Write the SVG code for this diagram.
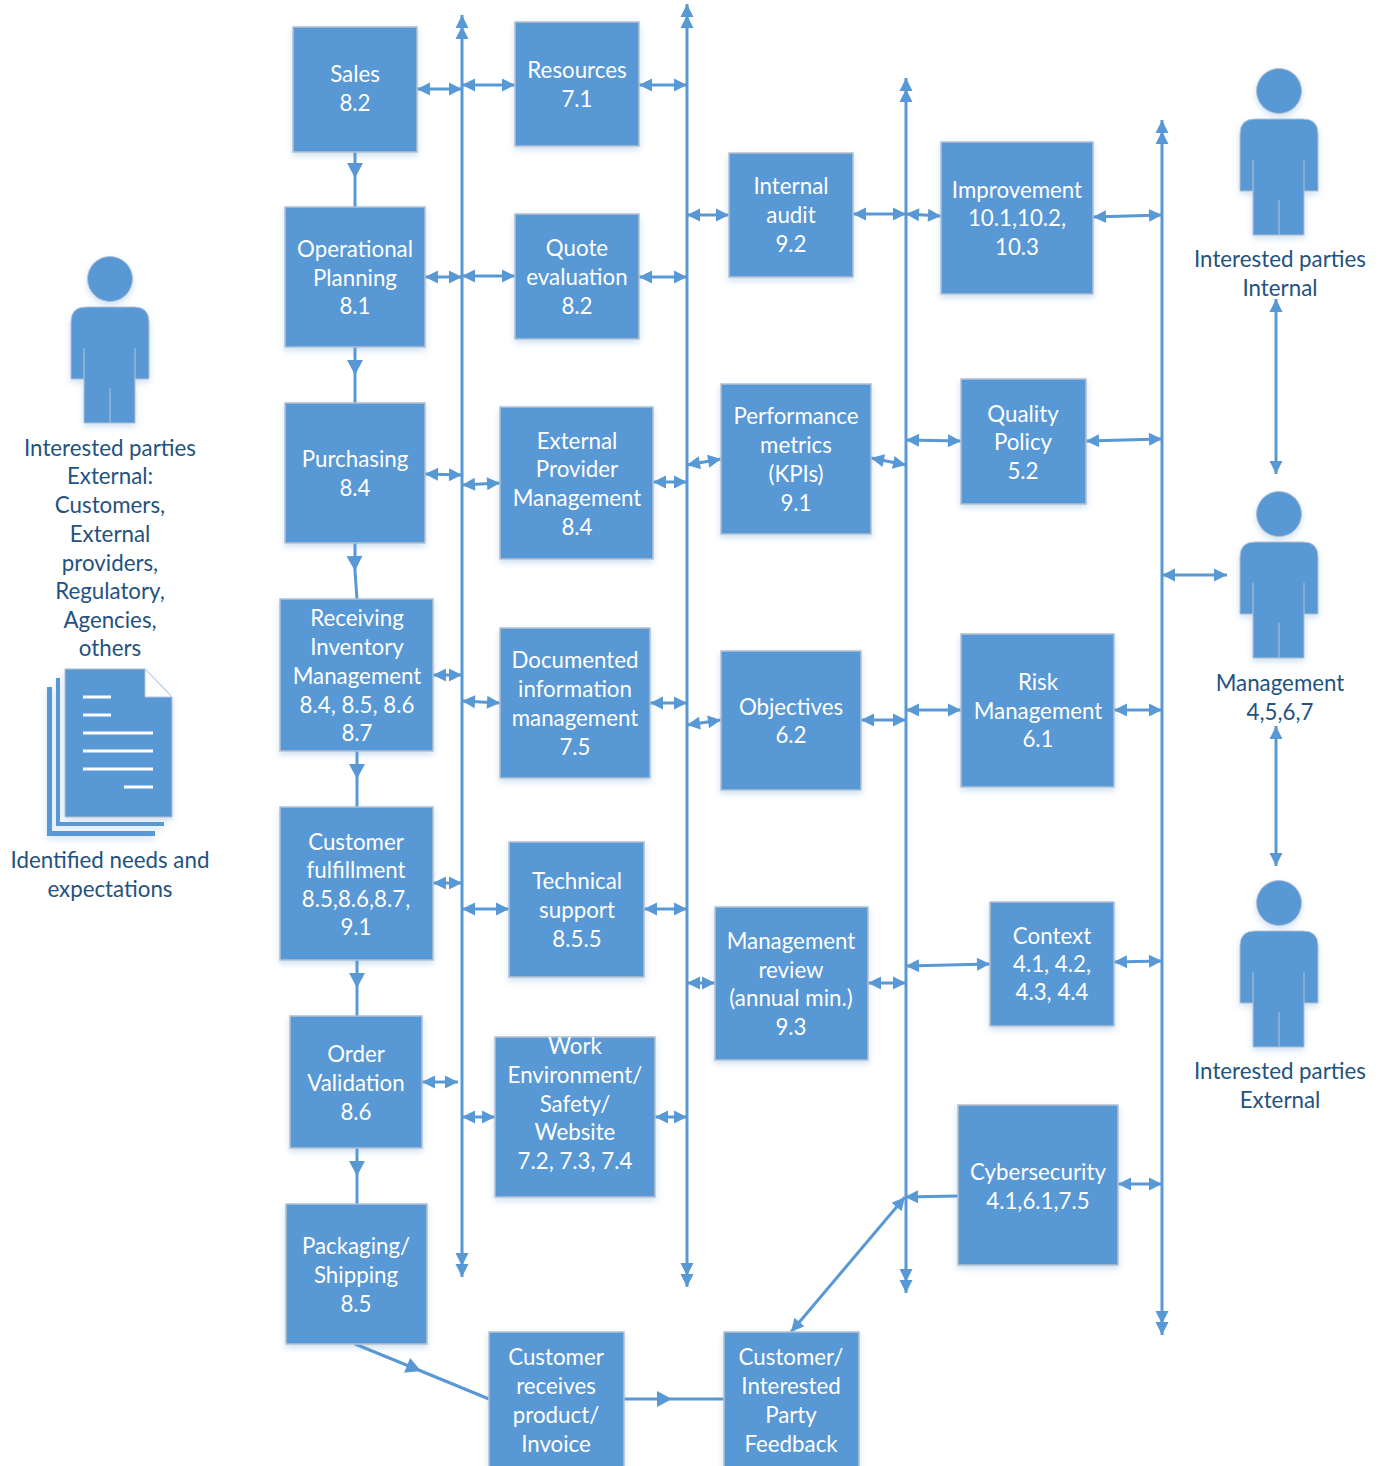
<svg xmlns="http://www.w3.org/2000/svg" width="1384" height="1466" viewBox="0 0 1384 1466">
<style>
text{font-family:"Lato","Liberation Sans",sans-serif;font-size:22.300px;text-anchor:middle;transform:translateY(1px)}
.n rect,.b{fill:#5898d5;stroke:#b4c0cf;stroke-width:1.5;filter:url(#s)}
.n text{fill:#fff}
.l{fill:#24527e}
.p{fill:#5898d5;stroke:#b4c0cf;stroke-width:1;filter:url(#s)}
.d{fill:none;stroke:#b4c5d8;stroke-width:1}
.w{fill:none;stroke:#fff;stroke-width:3}
#c line,#c polyline{fill:none;stroke:#5898d5;stroke-width:3}
.a2{marker-start:url(#a);marker-end:url(#a)}
.v{marker-start:url(#aa);marker-end:url(#aa)}
.m{marker-mid:url(#b)}
.e{marker-end:url(#a)}
</style>
<defs>
<filter id="s" x="-10%" y="-10%" width="120%" height="125%"><feDropShadow dx="0" dy="3" stdDeviation="3" flood-color="#5b9bd5" flood-opacity=".3"/></filter>
<marker id="a" markerUnits="userSpaceOnUse" markerWidth="16" markerHeight="16" viewBox="0 0 16 16" refX="15" refY="8" orient="auto-start-reverse"><path d="M15 8L2 1.500V14.500Z" fill="#5898d5"/></marker>
<marker id="b" markerUnits="userSpaceOnUse" markerWidth="18" markerHeight="18" viewBox="0 0 18 18" refX="17" refY="9" orient="auto"><path d="M17 9L2 1V17Z" fill="#5898d5"/></marker>
<marker id="aa" markerUnits="userSpaceOnUse" markerWidth="28" markerHeight="16" viewBox="0 0 28 16" refX="27" refY="8" orient="auto-start-reverse"><path d="M27 8L14 1.500V14.500ZM16 8L3 1.500V14.500Z" fill="#5898d5"/></marker>
<g id="person"><circle cx="110" cy="279" r="22.500" class="p"/><path class="p" d="M71 379V322Q71 307 86 307H134Q149 307 149 322V379H135V423H84V379Z"/><path class="d" d="M84 348V379M135 348V379M110 388V423"/></g>
</defs>
<g id="c">
<polyline class="m" points="355,152 355,178 355,207"/>
<polyline class="m" points="355,347 355,375 355,403"/>
<polyline class="m" points="355,543 355,571 357,599"/>
<polyline class="m" points="357,751 357,779 357,807"/>
<polyline class="m" points="357,960 357,988 357,1016"/>
<polyline class="m" points="357,1148 357,1176 357,1204"/>
<polyline class="m" points="355,1344 421,1371 489,1399"/>
<polyline class="m" points="624,1399 672,1399 724,1399"/>
<line class="v" x1="462" y1="15" x2="462" y2="1277"/>
<line class="v" x1="687" y1="4" x2="687" y2="1287"/>
<line class="v" x1="906" y1="78" x2="906" y2="1293"/>
<line class="v" x1="1162" y1="120" x2="1162" y2="1335"/>
<line class="a2" x1="417" y1="89" x2="462" y2="89"/>
<line class="a2" x1="462" y1="85" x2="515" y2="85"/>
<line class="a2" x1="639" y1="85" x2="687" y2="85"/>
<line class="a2" x1="425" y1="277" x2="462" y2="277"/>
<line class="a2" x1="462" y1="276" x2="515" y2="276"/>
<line class="a2" x1="639" y1="277" x2="687" y2="277"/>
<line class="a2" x1="425" y1="474" x2="462" y2="475"/>
<line class="a2" x1="462" y1="485" x2="500" y2="483"/>
<line class="a2" x1="653" y1="482" x2="687" y2="482"/>
<line class="a2" x1="433" y1="675" x2="462" y2="675"/>
<line class="a2" x1="462" y1="701" x2="500" y2="703"/>
<line class="a2" x1="650" y1="703" x2="687" y2="703"/>
<line class="a2" x1="433" y1="883" x2="462" y2="883"/>
<line class="a2" x1="462" y1="909" x2="509" y2="909"/>
<line class="a2" x1="644" y1="909" x2="687" y2="909"/>
<line class="a2" x1="422" y1="1082" x2="458" y2="1082"/>
<line class="a2" x1="462" y1="1117" x2="495" y2="1117"/>
<line class="a2" x1="655" y1="1117" x2="687" y2="1117"/>
<line class="a2" x1="687" y1="215" x2="729" y2="215"/>
<line class="a2" x1="853" y1="214" x2="906" y2="214"/>
<line class="a2" x1="906" y1="214" x2="941" y2="216"/>
<line class="a2" x1="1093" y1="217" x2="1162" y2="215"/>
<line class="a2" x1="687" y1="465" x2="721" y2="459"/>
<line class="a2" x1="871" y1="458" x2="906" y2="465"/>
<line class="a2" x1="906" y1="440" x2="961" y2="441"/>
<line class="a2" x1="1086" y1="441" x2="1162" y2="439"/>
<line class="a2" x1="687" y1="725" x2="721" y2="720"/>
<line class="a2" x1="861" y1="720" x2="906" y2="720"/>
<line class="a2" x1="906" y1="710" x2="961" y2="710"/>
<line class="a2" x1="1114" y1="710" x2="1162" y2="710"/>
<line class="a2" x1="687" y1="983" x2="715" y2="983"/>
<line class="a2" x1="868" y1="983" x2="906" y2="983"/>
<line class="a2" x1="906" y1="966" x2="990" y2="964"/>
<line class="a2" x1="1114" y1="962" x2="1162" y2="961"/>
<line class="a2" x1="1118" y1="1184" x2="1162" y2="1184"/>
<line class="e" x1="958" y1="1196" x2="905" y2="1197"/>
<line class="a2" x1="905" y1="1197" x2="791" y2="1332"/>
<line class="a2" x1="1162" y1="575" x2="1227" y2="575"/>
<line class="a2" x1="1276" y1="299" x2="1276" y2="474"/>
<line class="a2" x1="1276" y1="726" x2="1276" y2="866"/>
</g>
<g id="sales" class="n"><rect x="293" y="27" width="124" height="125"/><text><tspan x="355" y="81">Sales</tspan><tspan x="355" y="110">8.2</tspan></text></g>
<g id="op-planning" class="n"><rect x="285" y="207" width="140" height="140"/><text><tspan x="355" y="256">Operational</tspan><tspan x="355" y="285">Planning</tspan><tspan x="355" y="313">8.1</tspan></text></g>
<g id="purchasing" class="n"><rect x="285" y="403" width="140" height="140"/><text><tspan x="355" y="466">Purchasing</tspan><tspan x="355" y="495">8.4</tspan></text></g>
<g id="receiving" class="n"><rect x="280" y="599" width="153" height="152"/><text><tspan x="357" y="625">Receiving</tspan><tspan x="357" y="654">Inventory</tspan><tspan x="357" y="683">Management</tspan><tspan x="357" y="712">8.4, 8.5, 8.6</tspan><tspan x="357" y="740">8.7</tspan></text></g>
<g id="fulfillment" class="n"><rect x="280" y="807" width="153" height="153"/><text><tspan x="356" y="849">Customer</tspan><tspan x="356" y="877">fulfillment</tspan><tspan x="356" y="906">8.5,8.6,8.7,</tspan><tspan x="356" y="934">9.1</tspan></text></g>
<g id="order-validation" class="n"><rect x="290" y="1016" width="132" height="132"/><text><tspan x="356" y="1061">Order</tspan><tspan x="356" y="1090">Validation</tspan><tspan x="356" y="1119">8.6</tspan></text></g>
<g id="packaging" class="n"><rect x="286" y="1204" width="141" height="140"/><text><tspan x="356" y="1253">Packaging/</tspan><tspan x="356" y="1282">Shipping</tspan><tspan x="356" y="1311">8.5</tspan></text></g>
<g id="resources" class="n"><rect x="515" y="22" width="124" height="124"/><text><tspan x="577" y="77">Resources</tspan><tspan x="577" y="106">7.1</tspan></text></g>
<g id="quote" class="n"><rect x="515" y="214" width="124" height="125"/><text><tspan x="577" y="255">Quote</tspan><tspan x="577" y="284">evaluation</tspan><tspan x="577" y="313">8.2</tspan></text></g>
<g id="external-provider" class="n"><rect x="500" y="407" width="153" height="152"/><text><tspan x="577" y="448">External</tspan><tspan x="577" y="476">Provider</tspan><tspan x="577" y="505">Management</tspan><tspan x="577" y="534">8.4</tspan></text></g>
<g id="documented" class="n"><rect x="500" y="628" width="150" height="150"/><text><tspan x="575" y="667">Documented</tspan><tspan x="575" y="696">information</tspan><tspan x="575" y="725">management</tspan><tspan x="575" y="754">7.5</tspan></text></g>
<g id="technical" class="n"><rect x="509" y="842" width="135" height="135"/><text><tspan x="577" y="888">Technical</tspan><tspan x="577" y="917">support</tspan><tspan x="577" y="946">8.5.5</tspan></text></g>
<g id="work-env" class="n"><rect x="495" y="1037" width="160" height="160"/><text><tspan x="575" y="1053">Work</tspan><tspan x="575" y="1082">Environment/</tspan><tspan x="575" y="1111">Safety/</tspan><tspan x="575" y="1139">Website</tspan><tspan x="575" y="1168">7.2, 7.3, 7.4</tspan></text></g>
<g id="customer-receives" class="n"><rect x="489" y="1332" width="135" height="140"/><text><tspan x="556" y="1364">Customer</tspan><tspan x="556" y="1393">receives</tspan><tspan x="556" y="1422">product/</tspan><tspan x="556" y="1451">Invoice</tspan></text></g>
<g id="feedback" class="n"><rect x="724" y="1332" width="135" height="140"/><text><tspan x="791" y="1364">Customer/</tspan><tspan x="791" y="1393">Interested</tspan><tspan x="791" y="1422">Party</tspan><tspan x="791" y="1451">Feedback</tspan></text></g>
<g id="internal-audit" class="n"><rect x="729" y="153" width="124" height="124"/><text><tspan x="791" y="193">Internal</tspan><tspan x="791" y="222">audit</tspan><tspan x="791" y="251">9.2</tspan></text></g>
<g id="performance" class="n"><rect x="721" y="384" width="150" height="150"/><text><tspan x="796" y="423">Performance</tspan><tspan x="796" y="452">metrics</tspan><tspan x="796" y="481">(KPIs)</tspan><tspan x="796" y="510">9.1</tspan></text></g>
<g id="objectives" class="n"><rect x="721" y="651" width="140" height="139"/><text><tspan x="791" y="714">Objectives</tspan><tspan x="791" y="742">6.2</tspan></text></g>
<g id="mgmt-review" class="n"><rect x="715" y="907" width="153" height="153"/><text><tspan x="791" y="948">Management</tspan><tspan x="791" y="977">review</tspan><tspan x="791" y="1005">(annual min.)</tspan><tspan x="791" y="1034">9.3</tspan></text></g>
<g id="improvement" class="n"><rect x="941" y="142" width="152" height="152"/><text><tspan x="1017" y="197">Improvement</tspan><tspan x="1017" y="225">10.1,10.2,</tspan><tspan x="1017" y="254">10.3</tspan></text></g>
<g id="quality-policy" class="n"><rect x="961" y="379" width="125" height="125"/><text><tspan x="1023" y="421">Quality</tspan><tspan x="1023" y="449">Policy</tspan><tspan x="1023" y="478">5.2</tspan></text></g>
<g id="risk" class="n"><rect x="961" y="634" width="153" height="153"/><text><tspan x="1038" y="689">Risk</tspan><tspan x="1038" y="718">Management</tspan><tspan x="1038" y="746">6.1</tspan></text></g>
<g id="context" class="n"><rect x="990" y="902" width="124" height="124"/><text><tspan x="1052" y="943">Context</tspan><tspan x="1052" y="971">4.1, 4.2,</tspan><tspan x="1052" y="999">4.3, 4.4</tspan></text></g>
<g id="cybersecurity" class="n"><rect x="958" y="1105" width="160" height="160"/><text><tspan x="1038" y="1179">Cybersecurity</tspan><tspan x="1038" y="1208">4.1,6.1,7.5</tspan></text></g>
<g id="party-external"><use href="#person"/><text class="l"><tspan x="110" y="455">Interested parties</tspan><tspan x="110" y="483">External:</tspan><tspan x="110" y="512">Customers,</tspan><tspan x="110" y="541">External</tspan><tspan x="110" y="570">providers,</tspan><tspan x="110" y="598">Regulatory,</tspan><tspan x="110" y="627">Agencies,</tspan><tspan x="110" y="655">others</tspan></text></g>
<g id="needs"><path class="b" style="stroke:none" d="M47 687H52V831H155V836H47Z"/><path class="b" style="stroke:none" d="M56 678H60V822H164V826H56Z"/><path class="p" d="M65 669H145L172 697V817H65Z"/><path d="M145 669L172 697H145Z" fill="#fff" stroke="#b4c5d8"/><path class="w" d="M83 697H111M83 715H111M83 733H153M83 751H153M83 769H153M124 787H153"/><text class="l"><tspan x="110" y="867">Identified needs and</tspan><tspan x="110" y="896">expectations</tspan></text></g>
<g id="party-internal"><use href="#person" x="1169" y="-188"/><text class="l"><tspan x="1280" y="266">Interested parties</tspan><tspan x="1280" y="295">Internal</tspan></text></g>
<g id="management"><use href="#person" x="1169" y="235"/><text class="l"><tspan x="1280" y="690">Management</tspan><tspan x="1280" y="719">4,5,6,7</tspan></text></g>
<g id="party-external-2"><use href="#person" x="1169" y="624"/><text class="l"><tspan x="1280" y="1078">Interested parties</tspan><tspan x="1280" y="1107">External</tspan></text></g>
</svg>
